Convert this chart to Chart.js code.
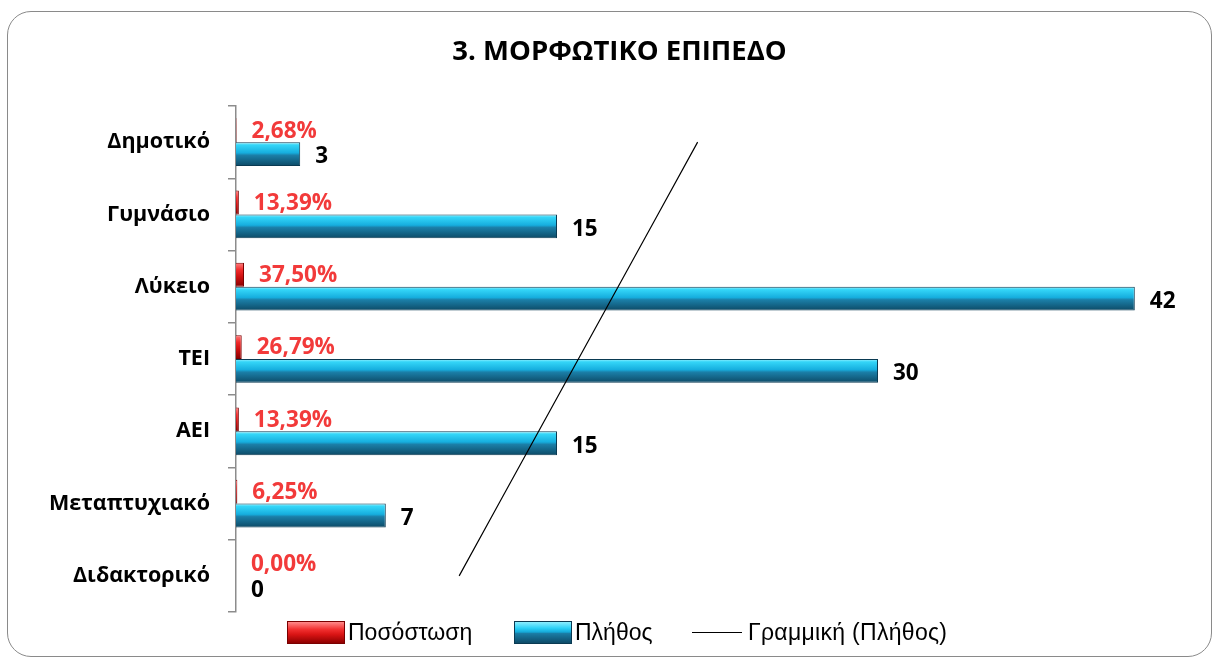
<!DOCTYPE html>
<html>
<head>
<meta charset="utf-8">
<script src="https://cdn.jsdelivr.net/npm/chart.js@4/dist/chart.umd.min.js"></script>
<style>
  html, body { margin: 0; padding: 0; background: #fff; }
  #wrap { position: relative; width: 1218px; height: 662px; overflow: hidden; }
  #chart { position: absolute; left: 0; top: 0; }
  #frame {
    position: absolute; left: 7px; top: 11px; width: 1203px; height: 644px;
    border: 1.5px solid #8a8a8a; border-radius: 24px; pointer-events: none;
  }
  .item {
    position: absolute; top: 619px; height: 26px;
    display: flex; align-items: center; white-space: nowrap;
    font: 23px "Liberation Sans", Arial, sans-serif; color: #000;
  }
  .swatch { width: 58px; height: 23px; box-sizing: border-box; margin-right: 3px; }
  .red { background: linear-gradient(#ff8a8a, #f23030 35%, #d81414 60%, #8e0000); border: 1px solid #7a0000; }
  .blue { background: linear-gradient(#8ceeff, #2ad0f6 30%, #15a9d8 48%, #1a7ca4 55%, #0e4b68); border: 1px solid #0a3a52; }
  .line { width: 50px; height: 0; border-top: 1.5px solid #000; margin-right: 6px; }
</style>
</head>
<body>
<div id="wrap">
  <canvas id="chart" width="1218" height="662"></canvas>
  <div id="frame"></div>
  <div class="item" style="left:287px"><div class="swatch red"></div><span>Ποσόστωση</span></div>
  <div class="item" style="left:514px"><div class="swatch blue"></div><span>Πλήθος</span></div>
  <div class="item" style="left:692px"><div class="line"></div><span style="letter-spacing:0.3px">Γραμμική (Πλήθος)</span></div>
</div>
<script>
const categories = ["Δημοτικό", "Γυμνάσιο", "Λύκειο", "ΤΕΙ", "ΑΕΙ", "Μεταπτυχιακό", "Διδακτορικό"];
const counts = [3, 15, 42, 30, 15, 7, 0];
const shares = [0.0268, 0.1339, 0.375, 0.2679, 0.1339, 0.0625, 0];

const CAT_PCT = 0.66;
const FONT = "'Open Sans', 'Noto Sans', sans-serif";

// linear trend of the counts (least squares over category index)
const n = counts.length;
const meanX = (n - 1) / 2;
const meanY = counts.reduce((a, b) => a + b, 0) / n;
let sxy = 0, sxx = 0;
counts.forEach((v, i) => { sxy += (i - meanX) * (v - meanY); sxx += (i - meanX) * (i - meanX); });
const slope = sxy / sxx;
const trend = counts.map((v, i) => meanY + slope * (i - meanX));

const redStops = [[0, "#ff8080"], [0.3, "#f02a2a"], [0.6, "#cc1010"], [1, "#860000"]];
const blueStops = [[0, "#a0f2ff"], [0.12, "#34d6f8"], [0.45, "#16aede"], [0.55, "#1b7fa8"], [1, "#0d4a66"]];

function barFill(stops, slot) {
  return (c) => {
    const chart = c.chart;
    const y = chart.scales.y;
    if (!y || c.dataIndex === undefined) return stops[1][1];
    const h = (y.height / categories.length) * CAT_PCT / 2;
    const mid = y.getPixelForValue(c.dataIndex);
    const top = slot === 0 ? mid - h : mid;
    if (!isFinite(top) || !isFinite(h) || h <= 0) return stops[1][1];
    const g = chart.ctx.createLinearGradient(0, top, 0, top + h);
    stops.forEach((s) => g.addColorStop(s[0], s[1]));
    return g;
  };
}

function pct(v) {
  return (v * 100).toFixed(2).replace(".", ",") + "%";
}

const valueLabels = {
  id: "valueLabels",
  afterDatasetsDraw(chart) {
    const ctx = chart.ctx;
    ctx.save();
    ctx.font = "bold 22.5px " + FONT;
    ctx.textAlign = "left";
    ctx.textBaseline = "middle";
    chart.getDatasetMeta(0).data.forEach((bar, i) => {
      ctx.fillStyle = "#f23a3a";
      ctx.fillText(pct(shares[i]), bar.x + 15, bar.y + 1);
    });
    chart.getDatasetMeta(1).data.forEach((bar, i) => {
      ctx.fillStyle = "#000";
      ctx.fillText(String(counts[i]), bar.x + 15, bar.y + 3);
    });
    ctx.restore();
  }
};

new Chart(document.getElementById("chart"), {
  type: "bar",
  data: {
    labels: categories,
    datasets: [
      {
        label: "Ποσόστωση",
        data: shares,
        indexAxis: "y",
        backgroundColor: barFill(redStops, 0),
        borderColor: "#7a0000",
        borderWidth: 1,
        categoryPercentage: CAT_PCT,
        barPercentage: 1
      },
      {
        label: "Πλήθος",
        data: counts,
        indexAxis: "y",
        backgroundColor: barFill(blueStops, 1),
        borderColor: "#0a3a52",
        borderWidth: 1,
        categoryPercentage: CAT_PCT,
        barPercentage: 1
      },
      {
        type: "line",
        label: "Γραμμική (Πλήθος)",
        data: trend,
        indexAxis: "y",
        borderColor: "#000",
        borderWidth: 1.2,
        pointRadius: 0,
        fill: false,
        order: -1
      }
    ]
  },
  options: {
    indexAxis: "y",
    responsive: false,
    animation: false,
    devicePixelRatio: 1,
    layout: { padding: { top: 0, bottom: 50, left: 40, right: 19 } },
    plugins: {
      legend: { display: false },
      tooltip: { enabled: false },
      title: {
        display: true,
        text: "3. ΜΟΡΦΩΤΙΚΟ ΕΠΙΠΕΔΟ",
        color: "#000",
        font: { family: FONT, size: 27.5, weight: "bold", lineHeight: 1.2 },
        padding: { top: 36, bottom: 37 }
      }
    },
    scales: {
      x: { display: false, min: 0, max: 45 },
      y: {
        afterFit(scale) { scale.width = 196; },
        border: { display: true, color: "#8c8c8c", width: 1.5 },
        grid: { display: true, drawOnChartArea: false, drawTicks: true, tickLength: 8, color: "#8c8c8c", lineWidth: 1.5, offset: true },
        ticks: { color: "#000", padding: 18, font: { family: FONT, size: 21.5, weight: "bold" } }
      }
    }
  },
  plugins: [valueLabels]
});
</script>
</body>
</html>
